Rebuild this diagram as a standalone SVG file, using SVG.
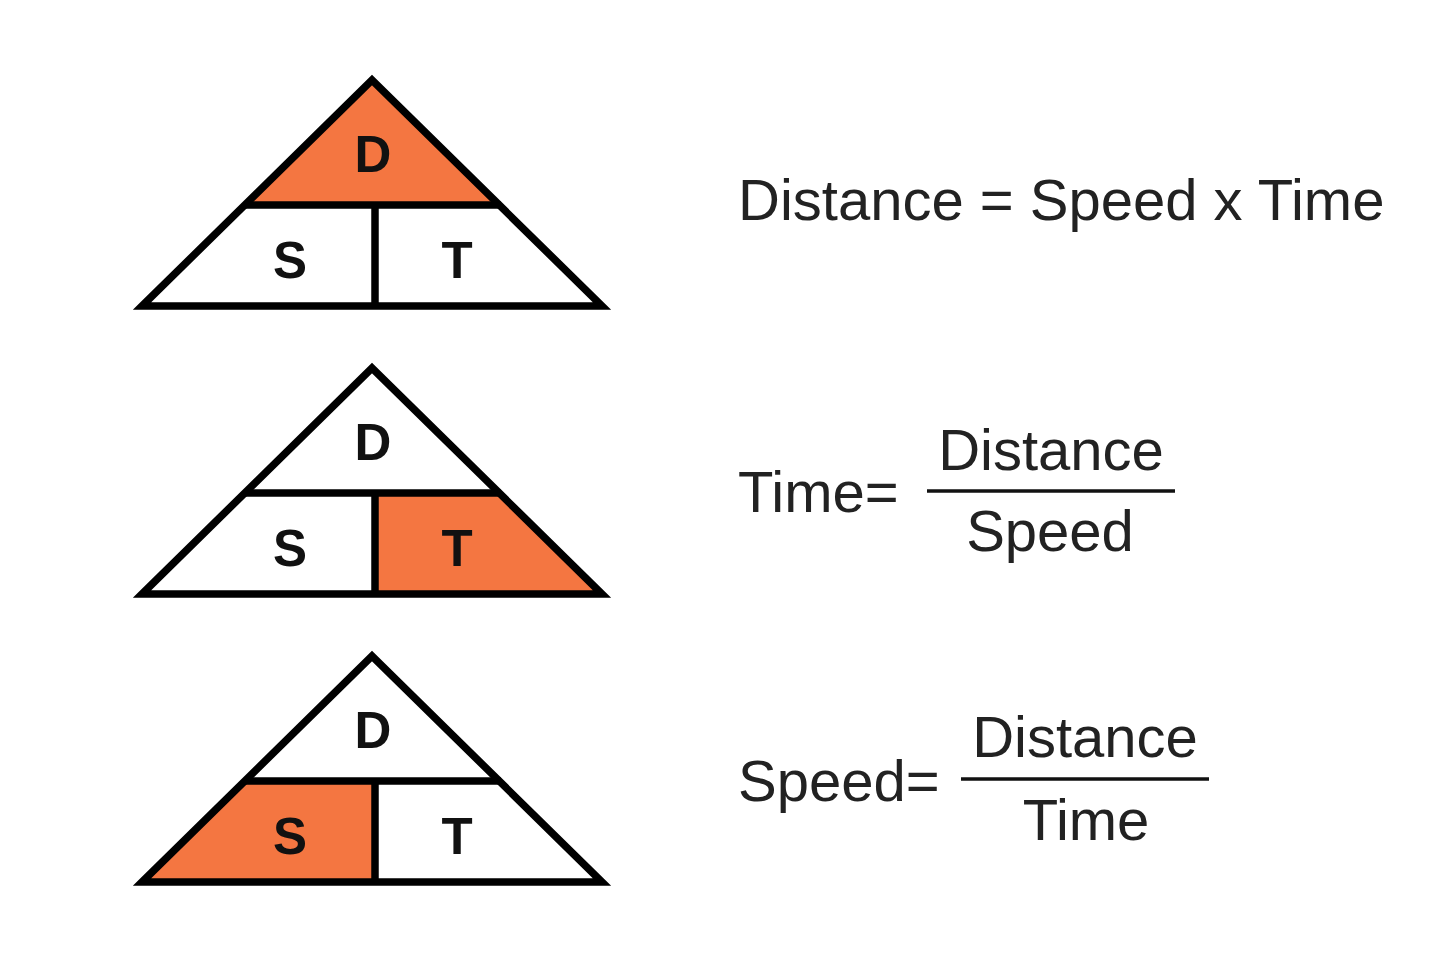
<svg xmlns="http://www.w3.org/2000/svg" width="1440" height="960" viewBox="0 0 1440 960">
<style>
.hl{fill:#F47641}
.ln{fill:none;stroke:#000;stroke-width:7.5;stroke-linejoin:miter;stroke-miterlimit:10}
.let{font-family:"Liberation Sans",Arial,sans-serif;font-weight:bold;font-size:51px;fill:#111;text-anchor:middle}
.eq{font-family:"Liberation Sans",Arial,sans-serif;font-size:58px;fill:#222}
.mid{text-anchor:middle}
.bar{stroke:#111;stroke-width:3.5}
</style>
<defs>
<g id="frame">
<polygon class="ln" points="142,306 372,80 602,306"/>
<line class="ln" x1="244" y1="205" x2="501" y2="205"/>
<line class="ln" x1="375" y1="205" x2="375" y2="306"/>
<text class="let" x="373" y="172">D</text>
<text class="let" x="290" y="278">S</text>
<text class="let" x="457" y="278">T</text>
</g>
</defs>
<rect width="1440" height="960" fill="#fff"/>
<g id="tri-distance">
<polygon class="hl" points="372,80 244,205 501,205"/>
<use href="#frame"/>
</g>
<g id="tri-time" transform="translate(0,288)">
<polygon class="hl" points="375,205 501,205 602,306 375,306"/>
<use href="#frame"/>
</g>
<g id="tri-speed" transform="translate(0,576)">
<polygon class="hl" points="244,205 375,205 375,306 142,306"/>
<use href="#frame"/>
</g>
<g id="formula-distance">
<text class="eq" x="738" y="220">Distance = Speed x Time</text>
</g>
<g id="formula-time">
<text class="eq" x="738" y="512">Time=</text>
<text class="eq mid" x="1051" y="470">Distance</text>
<line class="bar" x1="927" y1="491" x2="1175" y2="491"/>
<text class="eq mid" x="1050" y="551">Speed</text>
</g>
<g id="formula-speed">
<text class="eq" x="738" y="801">Speed=</text>
<text class="eq mid" x="1085" y="757">Distance</text>
<line class="bar" x1="961" y1="779" x2="1209" y2="779"/>
<text class="eq mid" x="1086" y="840">Time</text>
</g>
</svg>
